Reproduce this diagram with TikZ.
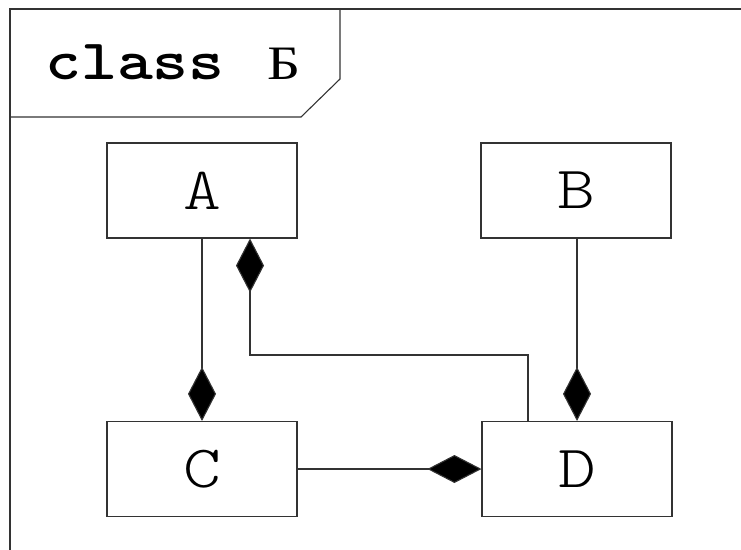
\documentclass[tikz,border=0pt]{standalone}
\usepackage{fontspec}
\newfontfamily\cyrserif{Liberation Serif}
\newfontfamily\thinmono{Latin Modern Mono Light}
\usetikzlibrary{arrows.meta}
\newcommand{\widetext}[1]{\scalebox{1.2}[1]{#1}}
\begin{document}
\begin{tikzpicture}[x=1pt,y=-1pt,
  umlline/.style={draw=black!80, line width=1.1pt},
  classbox/.style={umlline, rectangle, minimum width=190pt, minimum height=95pt,
    inner sep=0pt, font=\fontsize{60}{60}\selectfont\thinmono},
  comp/.style={umlline, -{Diamond[length=54pt,width=28pt,fill=black]}}]
  \useasboundingbox[fill=white] (0,0) rectangle (741,549);
  \clip (0,0) rectangle (741,549);
  % diagram frame and name tab
  \draw[umlline, line width=1.5pt] (10,575) -- (10,9) -- (770,9);
  \draw[umlline] (10,117) -- (301,117) -- (340,79) -- (340,9);
  \node[anchor=base west, inner sep=0pt, font=\fontsize{57}{57}\selectfont\ttfamily] (title)
    at (45,79) {\widetext{\textbf{class}\ \hspace{6pt}{\cyrserif\fontsize{48}{48}\selectfont Б}}};
  % classes
  \node[classbox] (A) at (202,190.5) {\widetext{A}};
  \node[classbox] (B) at (576,190.5) {\widetext{B}};
  \node[classbox] (C) at (202,469) {\widetext{C}};
  \node[classbox] (D) at (577,469) {\widetext{D}};
  % composition links
  \draw[comp] (A.south) -- (C.north);
  \draw[comp] (B.south -| D.north) -- (D.north);
  \draw[comp] (C.east) -- (D.west);
  \coordinate (bendD) at (528,355);
  \coordinate (bendA) at (250,355);
  \draw[comp] (D.north -| bendD) -- (bendD) -- (bendA) -- (bendA |- A.south);
\end{tikzpicture}
\end{document}
